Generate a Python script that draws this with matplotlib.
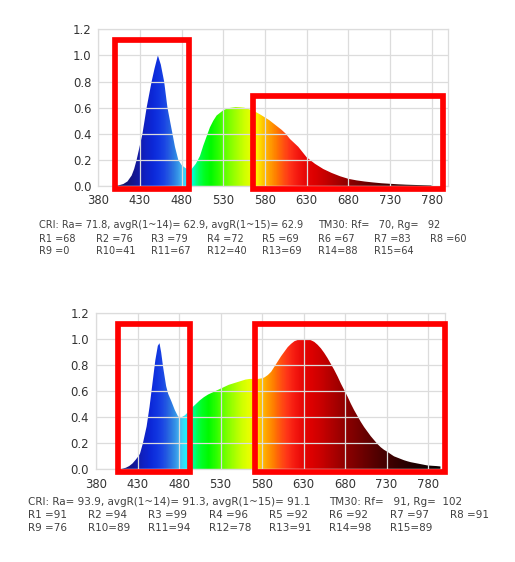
import numpy as np
import matplotlib
matplotlib.use('Agg')
import matplotlib.pyplot as plt
from matplotlib.colors import LinearSegmentedColormap
from matplotlib.patches import Rectangle

# spectrum 1 (cool white, low CRI)
wl_a = [400, 405, 410, 415, 420, 423, 426, 429.5, 433, 435.5, 438, 441, 444, 447.5,
        451.5, 455, 459, 461, 463, 466, 469, 472, 476, 480, 484, 488, 492,
        497, 502, 506, 510, 514, 518, 522, 526, 530, 535, 540, 545, 550, 555, 560,
        565, 570, 575, 580, 585, 590, 595, 600, 605, 610, 615, 620, 630, 640, 650,
        660, 670, 680, 690, 700, 710, 720, 730, 740, 750, 760, 770, 780]
val_a = [0.0, 0.006, 0.015, 0.035, 0.08, 0.13, 0.20, 0.30, 0.40, 0.50, 0.60, 0.70,
         0.80, 0.90, 1.0, 0.93, 0.80, 0.70, 0.60, 0.50, 0.40, 0.30, 0.20, 0.16, 0.14,
         0.125, 0.13, 0.17, 0.23, 0.31, 0.38, 0.45, 0.50, 0.54, 0.56, 0.58, 0.595,
         0.60, 0.605, 0.603, 0.60, 0.59, 0.578, 0.563, 0.545, 0.525, 0.505, 0.48, 0.455,
         0.43, 0.40, 0.36, 0.33, 0.30, 0.22, 0.17, 0.13, 0.10, 0.075, 0.055, 0.043,
         0.034, 0.027, 0.021, 0.017, 0.013, 0.01, 0.008, 0.006, 0.004]

# spectrum 2 (full spectrum, high CRI)
wl_b = [408, 412, 416, 420, 424, 428, 431, 433, 436.5, 441, 444.5, 448, 451.5,
        454.5, 456.5, 458.5, 461, 464.5, 467, 471, 475, 479, 483, 487, 491, 495, 500,
        505, 510, 515, 520, 525, 530, 535, 540, 545, 550, 555, 560, 565, 570, 575,
        580, 583, 587, 591, 595, 599, 603, 607, 611, 615, 619, 623, 629, 635, 639,
        643, 647, 651, 655, 659, 663, 667, 671, 675, 679, 683, 687, 691, 695, 699,
        703, 707, 711, 715, 719, 723, 727, 731, 735, 739, 743, 747, 751, 755, 759,
        763, 767, 771, 775, 779, 785, 790, 795]
val_b = [0.0, 0.005, 0.012, 0.025, 0.045, 0.075, 0.10, 0.12, 0.20, 0.33, 0.48, 0.66,
         0.84, 0.95, 0.97, 0.90, 0.78, 0.64, 0.58, 0.52, 0.455, 0.405,
         0.40, 0.415, 0.44, 0.47, 0.50, 0.53, 0.555, 0.575, 0.59, 0.605, 0.62, 0.635,
         0.65, 0.66, 0.67, 0.68, 0.69, 0.695, 0.695, 0.695, 0.70, 0.707, 0.725, 0.75,
         0.79, 0.83, 0.87, 0.905, 0.94, 0.965, 0.985, 0.995, 1.0, 1.0, 0.993, 0.98,
         0.958, 0.93, 0.895, 0.855, 0.81, 0.765, 0.715, 0.66, 0.61, 0.56, 0.505, 0.455,
         0.41, 0.365, 0.325, 0.29, 0.255, 0.225, 0.195, 0.17, 0.15, 0.135, 0.117, 0.10,
         0.09, 0.08, 0.07, 0.062, 0.055, 0.05, 0.045, 0.04, 0.035, 0.03, 0.027, 0.025,
         0.022]

xticks = [380, 430, 480, 530, 580, 630, 680, 730, 780]
yticks = [0.0, 0.2, 0.4, 0.6, 0.8, 1.0, 1.2]

# colour rendering results
cri_a = dict(Ra=71.8, avg14=62.9, avg15=62.9, Rf=70, Rg=92)
r_a = [68, 76, 79, 72, 69, 67, 83, 60, 0, 41, 67, 40, 69, 88, 64]
cri_b = dict(Ra=93.9, avg14=91.3, avg15=91.1, Rf=91, Rg=102)
r_b = [91, 94, 99, 96, 92, 92, 97, 91, 76, 89, 94, 78, 91, 98, 89]

# wavelength -> colour stops for the fill
stops = [(380, '#0a0a40'), (405, '#121260'), (415, '#141478'), (425, '#141898'),
         (435, '#1020c0'), (445, '#0c28d8'), (452, '#1034e0'), (460, '#1c48e4'),
         (467, '#2868e0'), (473, '#3088e4'), (478, '#40a8ec'), (483, '#40d0f4'),
         (488, '#20f0ff'), (491, '#00ffee'), (495, '#00ffb0'), (500, '#00ff60'),
         (506, '#00ff28'), (515, '#00fa00'), (525, '#30ff00'), (535, '#70ff00'),
         (545, '#a0ff00'), (555, '#ccff00'), (564, '#e8ff00'), (571, '#ffee00'),
         (578, '#ffc400'), (586, '#ffa000'), (594, '#ff7c00'), (602, '#ff5410'),
         (610, '#ff3418'), (620, '#f41810'), (630, '#e60606'), (640, '#dc0000'),
         (650, '#cc0000'), (665, '#ae0000'), (680, '#900000'), (700, '#700000'),
         (720, '#500000'), (740, '#380000'), (760, '#220000'), (780, '#120000'),
         (800, '#080000')]
cmap = LinearSegmentedColormap.from_list(
    'spec', [((w - 380) / 420, c) for w, c in stops])

fig = plt.figure(figsize=(5.15, 5.62), dpi=100)
W, H = 515, 562


def draw_spectrum(rect, wl, vals, boxes):
    ax = fig.add_axes(rect)
    fill = ax.fill_between(wl, vals, color='none', lw=0)
    grad = np.linspace(0, 1, 840).reshape(1, -1)
    im = ax.imshow(grad, extent=[380, 800, 0, 1.2], aspect='auto', cmap=cmap,
                   origin='lower', interpolation='bilinear')
    im.set_clip_path(fill.get_paths()[0], transform=ax.transData)
    ax.set_xlim(380, 800)
    ax.set_ylim(0, 1.2)
    ax.set_xticks(xticks)
    ax.set_yticks(yticks)
    ax.set_yticklabels(['%.1f' % v for v in yticks])
    ax.grid(color='#dcdcdc', lw=0.9)
    ax.set_axisbelow(True)
    for s in ax.spines.values():
        s.set_color('#dcdcdc')
        s.set_linewidth(0.9)
    ax.tick_params(length=0, labelsize=8.4, colors='#333333')
    ax.tick_params(axis='x', pad=6)
    ax.tick_params(axis='y', pad=5)
    for (x0, x1, y0, y1) in boxes:
        ax.add_patch(Rectangle((x0, y0), x1 - x0, y1 - y0, fill=False, ec='#ff0000',
                               lw=4.1, joinstyle='miter', clip_on=False, zorder=5))
    return ax


draw_spectrum([98.3 / W, 1 - 186 / H, 350 / W, 156.7 / H], wl_a, val_a,
              [(400.4, 488.5, -0.025, 1.119), (565.6, 793.6, -0.025, 0.686)])
draw_spectrum([96 / W, 1 - 469.3 / H, 348.6 / W, 156 / H], wl_b, val_b,
              [(406.1, 493.3, -0.02, 1.116), (571, 799.9, -0.02, 1.116)])


def draw_text(cri, r, x0, cols, rows, size):
    kw = dict(fontsize=size, color='#404040', va='center', ha='left')
    fig.text(x0 / W, 1 - rows[0] / H,
             'CRI: Ra= %.1f, avgR(1~14)= %.1f, avgR(1~15)= %.1f'
             % (cri['Ra'], cri['avg14'], cri['avg15']), **kw)
    fig.text(cols[5] / W, 1 - rows[0] / H,
             'TM30: Rf=%5d, Rg=%5d' % (cri['Rf'], cri['Rg']), **kw)
    for i, v in enumerate(r):
        row = 1 if i < 8 else 2
        col = i if i < 8 else i - 8
        fig.text(cols[col] / W, 1 - rows[row] / H, '%-3s=%d' % ('R%d' % (i + 1), v), **kw)


draw_text(cri_a, r_a, 39, [39, 96, 151, 207, 262, 318, 374, 430], [225, 239, 251], 7.0)
draw_text(cri_b, r_b, 28, [28, 88, 148, 209, 269, 329, 390, 450], [502, 515, 528], 7.5)

plt.savefig('out.png', dpi=100)
